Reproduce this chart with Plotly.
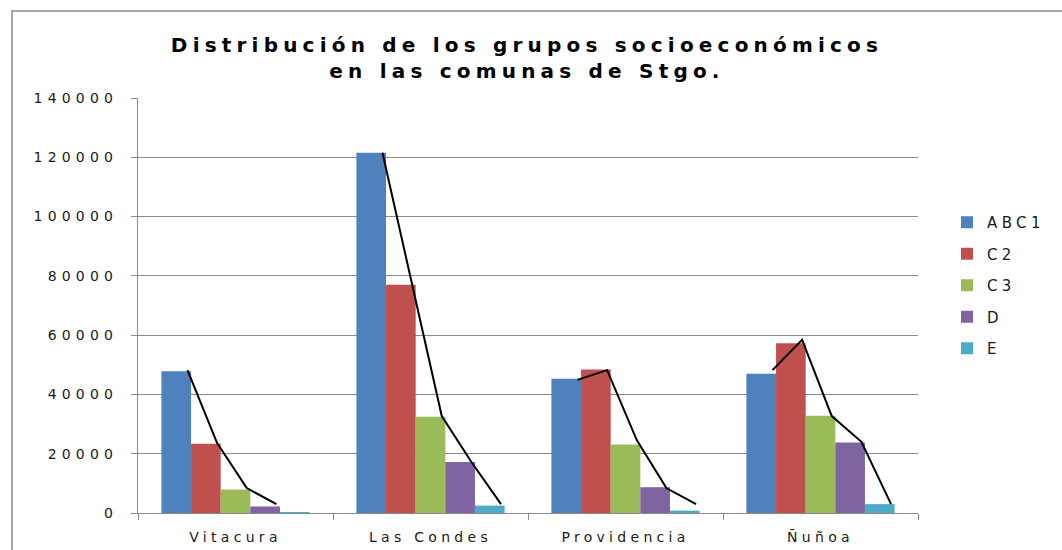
import plotly.graph_objects as go

# ---------------- data ----------------
comunas = ["Vitacura", "Las Condes", "Providencia", "Ñuñoa"]
grupos = ["ABC1", "C2", "C3", "D", "E"]

abc1 = [47800, 121500, 45300, 47000]
c2 = [23400, 77000, 48400, 57300]
c3 = [7900, 32500, 23100, 32800]
d = [2200, 17200, 8700, 23800]
e = [300, 2500, 800, 3000]
series_values = [abc1, c2, c3, d, e]

# hand-drawn black trend lines (one per comuna, one vertex per group)
linea_vitacura = [48200, 23600, 8400, 3000, None]
linea_las_condes = [121500, 77000, 32700, 17200, 3000]
linea_providencia = [44900, 48200, 24600, 8400, 3000]
linea_nunoa = [48200, 58400, 32700, 24000, 3000]
lineas = [linea_vitacura, linea_las_condes, linea_providencia, linea_nunoa]

y_ticks = [0, 20000, 40000, 60000, 80000, 100000, 120000, 140000]

# ---------------- style ----------------
colors = ["#4F81BD", "#C0504D", "#9BBB59", "#8064A2", "#4BACC6"]
BARGAP = 0.24
LINE_FRAC = 0.88  # position of line vertex inside each bar (0=left edge, 1=right edge)
W, H = 1062, 550
L, R, T, B = 138, 144, 98, 37
GRID = "#8a8a8a"

fig = go.Figure()
for name, vals, col in zip(grupos, series_values, colors):
    fig.add_trace(go.Bar(
        x=comunas, y=vals, name=name, marker_color=col,
        marker_line_width=0, legendgroup=name,
    ))

group_w = 1 - BARGAP
bar_w = group_w / len(grupos)
for ci, vals in enumerate(lineas):
    xs = [ci - group_w / 2 + bar_w * (j + LINE_FRAC) for j in range(len(grupos))]
    fig.add_trace(go.Scatter(
        x=xs, y=vals, mode="lines", xaxis="x2",
        line=dict(color="black", width=2), showlegend=False, hoverinfo="skip",
    ))

# outer chart border (extends past right/bottom of the image)
pw, ph = W - L - R, H - T - B
fig.add_shape(
    type="rect", xref="paper", yref="paper",
    x0=(12 - L) / pw, x1=(W + 20 - L) / pw,
    y0=-(H + 20 - (H - B)) / ph, y1=(H - B - 11) / ph,
    line=dict(color="#8a8a8a", width=1.5), fillcolor="rgba(0,0,0,0)", layer="below",
)

fig.update_layout(
    width=W, height=H,
    margin=dict(l=L, r=R, t=T, b=B, autoexpand=False),
    paper_bgcolor="white", plot_bgcolor="white",
    barmode="group", bargap=BARGAP, bargroupgap=0,
    title=dict(
        text="Distribución de los grupos socioeconómicos<br>en las comunas de Stgo.",
        x=527 / W, xanchor="center", xref="container",
        y=1 - 52 / H, yanchor="top", yref="container",
        font=dict(family="DejaVu Sans", size=20, color="black", weight="bold"),
    ),
    font=dict(family="DejaVu Sans", color="#1a1a1a"),
    xaxis=dict(
        type="category", tickson="boundaries", ticks="outside", ticklen=6,
        tickcolor=GRID, showline=True, linecolor=GRID, linewidth=1,
        showgrid=False, tickfont=dict(size=14, color="#1a1a1a"),
        ticklabelstandoff=11, range=[-0.5, 3.5], automargin=False,
    ),
    xaxis2=dict(overlaying="x", range=[-0.5, 3.5], visible=False),
    yaxis=dict(
        range=[0, 140000], tickvals=y_ticks, ticktext=[str(v) for v in y_ticks],
        ticks="outside", ticklen=6, tickcolor=GRID,
        showline=True, linecolor=GRID, linewidth=1,
        showgrid=True, gridcolor=GRID, gridwidth=1, zeroline=False,
        tickfont=dict(size=14, color="#1a1a1a"), ticklabelstandoff=10,
        automargin=False,
    ),
    legend=dict(
        x=(947 - L) / pw, xanchor="left", y=(H - B - 206) / ph, yanchor="top",
        font=dict(size=15, color="#1a1a1a"), tracegroupgap=9,
        bgcolor="rgba(0,0,0,0)",
    ),
    showlegend=True,
)

post = """
document.body.style.margin = '0';
document.body.style.padding = '0';
var gd = document.getElementById('{plot_id}');
function fix(){
  gd.querySelectorAll('.ytick text').forEach(function(t){t.style.letterSpacing='5.2px';});
  gd.querySelectorAll('.xtick text').forEach(function(t){t.style.letterSpacing='4.3px';});
  gd.querySelectorAll('.legendtext').forEach(function(t){t.style.letterSpacing='4.4px';});
  gd.querySelectorAll('.gtitle').forEach(function(t){t.style.letterSpacing='5.2px';});
  gd.querySelectorAll('.legend .scrollbox, .legend').forEach(function(s){s.removeAttribute('clip-path');});
}
fix();
gd.on('plotly_afterplot', fix);
"""

fig.write_html("out.html", post_script=post, config={"displayModeBar": False})
